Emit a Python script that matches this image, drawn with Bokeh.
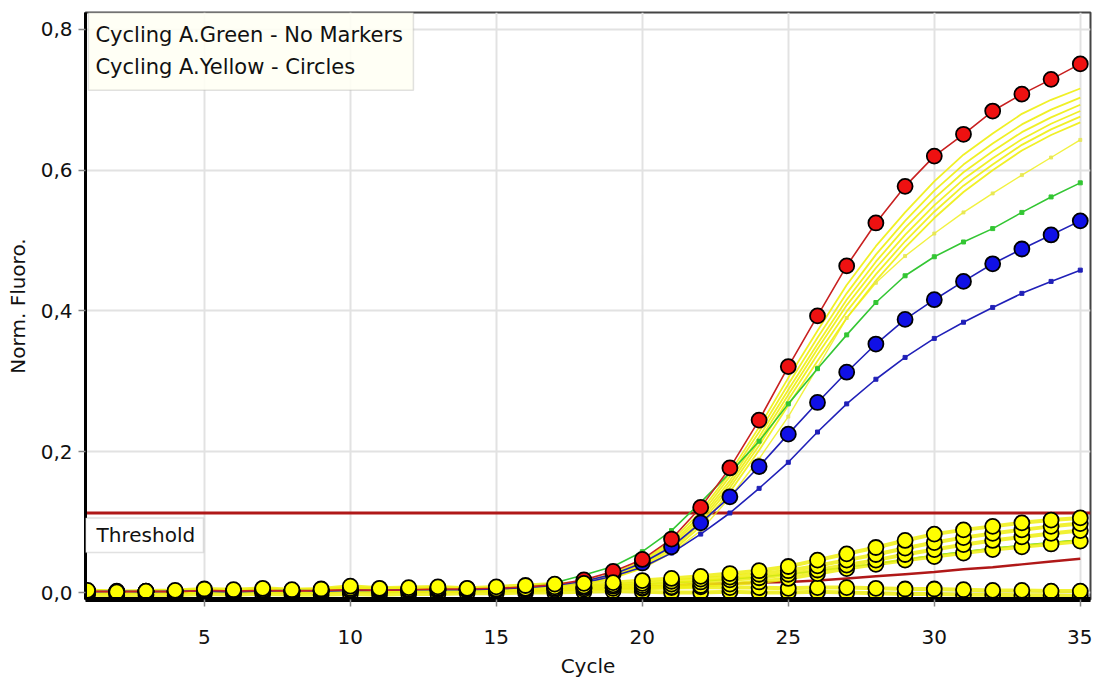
from bokeh.plotting import figure
from bokeh.models import (FixedTicker, CustomJSTickFormatter, BoxAnnotation, Label, Range1d, Span)
from bokeh.embed import file_html
from bokeh.resources import INLINE

# ---------------- data ----------------
cycles = list(range(1, 36))

x_ticks = [5, 10, 15, 20, 25, 30, 35]
y_ticks = [0.0, 0.2, 0.4, 0.6, 0.8]
threshold_value = 0.113

legend_lines = ["Cycling A.Green - No Markers", "Cycling A.Yellow - Circles"]
threshold_text = "Threshold"

# Green channel (lines, no markers)
g_yellow_1 = [0.001, 0.000, 0.001, 0.002, 0.001, 0.000, 0.001, 0.002, 0.001, 0.002, 0.001, 0.002, 0.002, 0.003,
              0.003, 0.006, 0.009, 0.016, 0.027, 0.045, 0.073, 0.115, 0.170, 0.235, 0.305, 0.372, 0.437, 0.492,
              0.540, 0.584, 0.622, 0.652, 0.680, 0.700, 0.716]
g_yellow_2 = [0.000, 0.001, 0.000, 0.001, 0.002, 0.001, 0.000, 0.001, 0.002, 0.001, 0.002, 0.001, 0.002, 0.002,
              0.003, 0.005, 0.009, 0.015, 0.026, 0.043, 0.070, 0.110, 0.165, 0.228, 0.296, 0.362, 0.425, 0.480,
              0.528, 0.571, 0.608, 0.638, 0.665, 0.686, 0.703]
g_yellow_3 = [0.001, 0.001, 0.000, 0.000, 0.001, 0.002, 0.001, 0.000, 0.001, 0.001, 0.002, 0.001, 0.001, 0.002,
              0.002, 0.005, 0.008, 0.014, 0.024, 0.041, 0.067, 0.106, 0.159, 0.221, 0.288, 0.353, 0.416, 0.470,
              0.518, 0.560, 0.597, 0.627, 0.654, 0.675, 0.693]
g_yellow_4 = [0.000, 0.000, 0.001, 0.001, 0.000, 0.001, 0.002, 0.001, 0.000, 0.001, 0.001, 0.002, 0.001, 0.002,
              0.002, 0.004, 0.008, 0.013, 0.023, 0.039, 0.064, 0.102, 0.154, 0.215, 0.281, 0.346, 0.408, 0.461,
              0.508, 0.550, 0.587, 0.617, 0.644, 0.666, 0.684]
g_yellow_5 = [0.001, 0.000, 0.000, 0.001, 0.001, 0.000, 0.001, 0.001, 0.002, 0.000, 0.001, 0.001, 0.002, 0.001,
              0.002, 0.004, 0.007, 0.012, 0.022, 0.037, 0.061, 0.098, 0.149, 0.209, 0.274, 0.338, 0.399, 0.452,
              0.499, 0.541, 0.578, 0.608, 0.636, 0.658, 0.676]
g_yellow_6 = [0.000, 0.001, 0.001, 0.000, 0.001, 0.001, 0.000, 0.002, 0.001, 0.001, 0.000, 0.001, 0.001, 0.002,
              0.002, 0.004, 0.007, 0.012, 0.021, 0.035, 0.058, 0.094, 0.143, 0.202, 0.266, 0.329, 0.390, 0.443,
              0.490, 0.532, 0.569, 0.600, 0.628, 0.650, 0.668]
g_yellow_7 = [0.000, 0.000, 0.001, 0.000, 0.001, 0.000, 0.001, 0.001, 0.000, 0.001, 0.001, 0.000, 0.001, 0.001,
              0.002, 0.004, 0.007, 0.012, 0.020, 0.034, 0.056, 0.088, 0.135, 0.190, 0.250, 0.320, 0.390, 0.440,
              0.478, 0.510, 0.540, 0.567, 0.593, 0.618, 0.643]
g_green = [0.001, 0.002, 0.001, 0.002, 0.003, 0.002, 0.003, 0.002, 0.003, 0.003, 0.004, 0.003, 0.004, 0.004,
           0.005, 0.008, 0.014, 0.025, 0.037, 0.058, 0.088, 0.128, 0.170, 0.215, 0.268, 0.318, 0.366, 0.412,
           0.450, 0.477, 0.498, 0.517, 0.540, 0.562, 0.582]
g_blue = [0.000, 0.001, 0.000, 0.001, 0.001, 0.000, 0.001, 0.001, 0.001, 0.002, 0.001, 0.001, 0.002, 0.002,
          0.002, 0.004, 0.008, 0.014, 0.023, 0.036, 0.056, 0.083, 0.113, 0.148, 0.185, 0.228, 0.268, 0.303,
          0.334, 0.361, 0.384, 0.405, 0.425, 0.442, 0.458]
g_red = [0.001, 0.002, 0.001, 0.002, 0.002, 0.001, 0.002, 0.002, 0.003, 0.003, 0.002, 0.003, 0.003, 0.003,
         0.003, 0.003, 0.004, 0.005, 0.006, 0.008, 0.010, 0.012, 0.013, 0.014, 0.015, 0.017, 0.020, 0.023,
         0.026, 0.029, 0.033, 0.036, 0.040, 0.044, 0.048]
g_green_low = [0.001, 0.001, 0.002, 0.001, 0.002, 0.002, 0.001, 0.002, 0.002, 0.003, 0.002, 0.003, 0.002, 0.003,
               0.003, 0.004, 0.006, 0.008, 0.010, 0.012, 0.014, 0.016, 0.019, 0.022, 0.026, 0.031, 0.036, 0.041,
               0.047, 0.053, 0.058, 0.063, 0.067, 0.071, 0.075]

# Yellow channel (circles)
y_red = [0.002, 0.001, 0.002, 0.001, 0.003, 0.002, 0.003, 0.002, 0.003, 0.004, 0.003, 0.004, 0.005, 0.005,
         0.006, 0.008, 0.011, 0.018, 0.030, 0.047, 0.076, 0.121, 0.177, 0.245, 0.321, 0.393, 0.464, 0.525,
         0.577, 0.620, 0.651, 0.684, 0.708, 0.729, 0.751]
y_blue = [0.001, 0.002, 0.001, 0.002, 0.002, 0.001, 0.002, 0.003, 0.002, 0.003, 0.003, 0.004, 0.004, 0.004,
          0.005, 0.007, 0.010, 0.016, 0.026, 0.042, 0.065, 0.099, 0.136, 0.179, 0.225, 0.270, 0.313, 0.353,
          0.388, 0.416, 0.442, 0.467, 0.488, 0.508, 0.528]
y_yellow_1 = [0.003, 0.001, 0.002, 0.003, 0.005, 0.004, 0.006, 0.004, 0.005, 0.009, 0.006, 0.007, 0.008, 0.006,
              0.008, 0.010, 0.012, 0.013, 0.014, 0.017, 0.020, 0.023, 0.027, 0.031, 0.037, 0.046, 0.055, 0.064,
              0.074, 0.083, 0.089, 0.094, 0.099, 0.103, 0.106]
y_yellow_2 = [0.002, 0.001, 0.001, 0.002, 0.003, 0.002, 0.004, 0.003, 0.004, 0.006, 0.005, 0.005, 0.006, 0.005,
              0.005, 0.006, 0.008, 0.009, 0.011, 0.013, 0.016, 0.019, 0.022, 0.026, 0.031, 0.038, 0.046, 0.054,
              0.063, 0.071, 0.078, 0.084, 0.089, 0.094, 0.098]
y_yellow_3 = [0.001, 0.000, 0.001, 0.001, 0.002, 0.002, 0.003, 0.002, 0.003, 0.004, 0.004, 0.004, 0.005, 0.004,
              0.004, 0.005, 0.006, 0.007, 0.009, 0.010, 0.012, 0.015, 0.018, 0.021, 0.026, 0.032, 0.039, 0.046,
              0.054, 0.061, 0.068, 0.074, 0.079, 0.084, 0.088]
y_yellow_4 = [0.000, 0.000, 0.001, 0.000, 0.001, 0.001, 0.002, 0.001, 0.002, 0.003, 0.002, 0.003, 0.003, 0.003,
              0.003, 0.003, 0.004, 0.005, 0.006, 0.007, 0.008, 0.010, 0.012, 0.015, 0.020, 0.027, 0.034, 0.040,
              0.046, 0.051, 0.056, 0.061, 0.065, 0.069, 0.073]
y_yellow_5 = [0.002, 0.000, 0.001, 0.000, 0.002, 0.001, 0.002, 0.000, 0.001, 0.003, 0.002, 0.002, 0.003, 0.004,
              0.004, 0.005, 0.006, 0.006, 0.007, 0.006, 0.007, 0.008, 0.007, 0.007, 0.006, 0.007, 0.007, 0.006,
              0.005, 0.005, 0.004, 0.003, 0.003, 0.002, 0.002]
y_yellow_6 = [-0.003, -0.004, -0.003, -0.004, -0.002, -0.003, -0.002, -0.003, -0.003, -0.002, -0.003, -0.002,
              -0.002, -0.001, -0.001, 0.000, 0.000, 0.001, 0.002, 0.001, 0.000, 0.000, 0.001, 0.000, 0.000,
              0.001, 0.000, -0.001, -0.002, -0.002, -0.003, -0.003, -0.004, -0.004, -0.005]

# ---------------- styles ----------------
FONT = "DejaVu Sans"
YELLOW_LINE = "#eeee10"
YELLOW_FILL = "#ffff00"
GREEN = "#33c633"
BLUE_LINE = "#2020b8"
RED_LINE = "#c82020"
DARK_RED = "#b01818"

p = figure(width=1092, height=680, output_backend="svg", toolbar_location=None,
           x_range=Range1d(0.93, 35.35), y_range=Range1d(-0.0099, 0.824),
           min_border_left=85, min_border_right=2, min_border_top=12, min_border_bottom=80)
p.background_fill_color = "white"
p.border_fill_color = "white"
p.outline_line_color = "#444444"
p.outline_line_width = 2

# axes
p.xaxis.ticker = FixedTicker(ticks=x_ticks)
p.yaxis.ticker = FixedTicker(ticks=y_ticks)
p.yaxis.formatter = CustomJSTickFormatter(code="return tick.toFixed(1).replace('.', ',');")
for ax in (p.xaxis, p.yaxis):
    ax.axis_line_color = "black"
    ax.major_tick_line_color = "#888888"
    ax.major_tick_line_width = 1.5
    ax.major_tick_out = 7
    ax.major_tick_in = 0
    ax.minor_tick_line_color = None
    ax.major_label_text_font = FONT
    ax.major_label_text_font_size = "20px"
    ax.major_label_text_color = "#111111"
    ax.axis_label_text_font = FONT
    ax.axis_label_text_font_size = "20px"
    ax.axis_label_text_font_style = "normal"
    ax.axis_label_text_color = "#111111"
p.xaxis.axis_line_width = 5
p.yaxis.axis_line_width = 3
p.xaxis.axis_label = "Cycle"
p.yaxis.axis_label = "Norm. Fluoro."
p.xaxis.major_label_standoff = 23
p.yaxis.major_label_standoff = 6
p.xaxis.axis_label_standoff = 7
p.yaxis.axis_label_standoff = 8

p.xgrid.ticker = FixedTicker(ticks=x_ticks)
p.ygrid.ticker = FixedTicker(ticks=y_ticks)
p.grid.grid_line_color = "#e2e2e2"
p.grid.grid_line_width = 2

# threshold
p.add_layout(Span(location=threshold_value, dimension="width", line_color=DARK_RED, line_width=3, level="underlay"))

# Green channel lines
for s in (g_yellow_1, g_yellow_2, g_yellow_3, g_yellow_4, g_yellow_5, g_yellow_6):
    p.line(cycles, s, line_color=YELLOW_LINE, line_width=1.8, line_alpha=0.9)
p.line(cycles, g_yellow_7, line_color=YELLOW_LINE, line_width=1.4, line_alpha=0.8)
p.scatter(cycles, g_yellow_7, marker="square", size=3, color="#e6e650", alpha=0.8)
p.line(cycles, g_green, line_color=GREEN, line_width=1.6)
p.scatter(cycles, g_green, marker="square", size=4, color=GREEN)
p.line(cycles, g_blue, line_color=BLUE_LINE, line_width=1.6)
p.scatter(cycles, g_blue, marker="square", size=4, color=BLUE_LINE)
p.line(cycles, g_red, line_color=DARK_RED, line_width=2.5)
p.line(cycles, g_green_low, line_color=GREEN, line_width=1.6)

# Yellow channel lines + circles
yellow_series = (y_yellow_6, y_yellow_5, y_yellow_4, y_yellow_3, y_yellow_2, y_yellow_1)
for s in yellow_series:
    p.line(cycles, s, line_color=YELLOW_LINE, line_width=4, line_alpha=0.85)
p.line(cycles, y_blue, line_color=BLUE_LINE, line_width=1.6)
p.line(cycles, y_red, line_color=RED_LINE, line_width=1.6)
p.scatter(cycles, y_blue, marker="circle", size=15, fill_color="#1010e6", line_color="black", line_width=1.8)
p.scatter(cycles, y_red, marker="circle", size=15, fill_color="#ee1111", line_color="black", line_width=1.8)
for s in yellow_series:
    p.scatter(cycles, s, marker="circle", size=15, fill_color=YELLOW_FILL, line_color="black", line_width=1.8)

# legend box (text only)
p.add_layout(BoxAnnotation(left=1.03, right=12.16, top=0.824, bottom=0.7135,
                           fill_color="#fffff4", fill_alpha=0.88, line_color="#9a9a9a", line_width=1.5))
p.add_layout(Label(x=1.27, y=0.7915, text=legend_lines[0], text_font=FONT, text_font_size="21px",
                   text_baseline="middle", text_color="#111111"))
p.add_layout(Label(x=1.27, y=0.7465, text=legend_lines[1], text_font=FONT, text_font_size="21px",
                   text_baseline="middle", text_color="#111111"))

# threshold label
p.add_layout(BoxAnnotation(left=0.93, right=4.97, top=0.106, bottom=0.057,
                           fill_color="white", fill_alpha=1.0, line_color="#9a9a9a", line_width=1.5))
p.add_layout(Label(x=1.31, y=0.0815, text=threshold_text, text_font=FONT, text_font_size="20px",
                   text_baseline="middle", text_color="#111111"))

open("out.html", "w").write(file_html(p, INLINE))
